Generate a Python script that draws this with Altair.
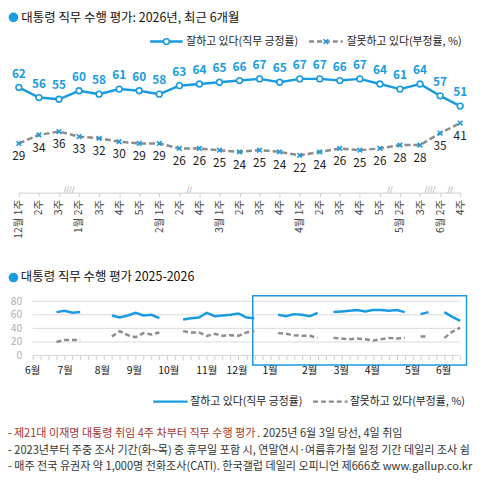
import json
import altair as alt
import pandas as pd

FONT = "Noto Sans CJK KR"
BLUE = "#1a9be0"
GRAY = "#8c8c8c"
RED = "#a8322d"

title_top = "대통령 직무 수행 평가: 2026년, 최근 6개월"
title_bottom = "대통령 직무 수행 평가 2025-2026"
legend_pos = "잘하고 있다(직무 긍정률)"
legend_neg = "잘못하고 있다(부정률, %)"

# ---- recent 6 months (top) ----
week_labels = ["12월 1주", "2주", "3주", "1월 2주", "3주", "4주", "5주", "2월 1주", "2주", "4주",
               "3월 1주", "2주", "3주", "4주", "4월 1주", "2주", "3주", "4주", "5주",
               "5월 2주", "3주", "6월 2주", "4주"]
recent_pos = [62, 56, 55, 60, 58, 61, 60, 58, 63, 64, 65, 66, 67, 65, 67, 67, 66, 67, 64, 61, 64, 57, 51]
recent_neg = [29, 34, 36, 33, 32, 30, 29, 29, 26, 26, 25, 24, 25, 24, 22, 24, 26, 25, 26, 28, 28, 35, 41]
break_at = [2.5, 8.5, 18.5, 20.5, 21.5]
break_text = ["////", "//", "//", "////", "//"]

# ---- 2025-2026 (bottom) ----
year_weeks = [3, 4, 5, 6, 10, 11, 12, 13, 14, 15, 16, 19, 20, 21, 22, 23, 24, 25, 26, 27, 28,
              31, 32, 33, 34, 35, 36, 38, 39, 40, 41, 42, 43, 44, 45, 46, 47, 49, 50, 52, 53, 54]
year_pos = [64, 66, 63, 64, 59, 56, 59, 63, 59, 60, 55, 53, 55, 56, 63, 58, 59, 60, 62, 56, 55,
            60, 58, 61, 60, 58, 63, 64, 65, 66, 67, 65, 67, 67, 66, 67, 64, 61, 64, 64, 57, 51]
year_neg = [20, 23, 23, 23, 28, 36, 30, 27, 33, 31, 34, 36, 34, 34, 29, 32, 29, 30, 29, 34, 36,
            33, 32, 30, 29, 29, 26, 26, 25, 24, 25, 24, 22, 24, 26, 25, 26, 28, 28, 26, 35, 41]
month_labels = ["6월", "7월", "8월", "9월", "10월", "11월", "12월", "1월", "2월", "3월", "4월", "5월", "6월"]
month_at = [0, 4.1, 8.8, 12.85, 17.2, 22.0, 25.8, 30.0, 35.0, 39.0, 42.9, 48.0, 51.9]
grid_values = [0, 20, 40, 60, 80]
first_week, last_week = 0, 54
highlight_x = [27.8]
highlight_x2 = [54.8]
highlight_y = [-14]
highlight_y2 = [88]

note1_dash = "-"
note1_red = "제21대 이재명 대통령 취임 4주 차부터 직무 수행 평가"
note1_tail = ". 2025년 6월 3일 당선, 4일 취임"
note2 = "- 2023년부터 주중 조사 기간(화~목) 중 휴무일 포함 시, 연말연시·여름휴가철 일정 기간 데일리 조사 쉼"
note3 = "- 매주 전국 유권자 약 1,000명 전화조사(CATI). 한국갤럽 데일리 오피니언 제666호 www.gallup.co.kr"


def text_layer(text, x, y, size, color="#222", align="left", weight="normal"):
    return alt.Chart(pd.DataFrame({"t": [text]})).mark_text(
        align=align, baseline="middle", font=FONT, fontSize=size, color=color, fontWeight=weight
    ).encode(x=alt.value(x), y=alt.value(y), text="t:N")


def rule_layer(x1, x2, y, color, width, dash=None):
    kw = dict(color=color, strokeWidth=width)
    if dash:
        kw["strokeDash"] = dash
    return alt.Chart(pd.DataFrame({"a": [0]})).mark_rule(**kw).encode(
        x=alt.value(x1), x2=alt.value(x2), y=alt.value(y))


XSHAPE = "M-1,-1L1,1M1,-1L-1,1"
W = 447
NOTE = 11.2
LEG = 11
TTL = 12.6

# ================= TOP =================
TH = 184
top_df = pd.DataFrame({"i": list(range(len(week_labels))), "pos": recent_pos, "neg": recent_neg})
label_arr = json.dumps(week_labels, ensure_ascii=False)
top_axis = alt.Axis(values=list(range(len(week_labels))), labelExpr=f"{label_arr}[datum.value]",
                    labelAngle=270, labelFontSize=10.5, labelColor="#444", labelFont=FONT,
                    labelOverlap=False, labelFlush=False, labelPadding=3, tickSize=4,
                    tickColor="#cccccc", domainColor="#cccccc", grid=False, title=None)
xs_top = alt.Scale(domain=[0, len(week_labels) - 1], nice=False, zero=False)
ys_top = alt.Scale(domain=[0, 107], nice=False)
ya_top = alt.Axis(labels=False, ticks=False, domain=False, grid=False, title=None)

tbase = alt.Chart(top_df)
t_x = alt.X("i:Q", scale=xs_top, axis=top_axis)
y_neg = alt.Y("neg:Q", scale=ys_top, axis=ya_top)
y_pos = alt.Y("pos:Q", scale=ys_top, axis=ya_top)
neg_line = tbase.mark_line(color=GRAY, strokeWidth=2.5, strokeDash=[6, 3]).encode(x=t_x, y=y_neg)
pos_line = tbase.mark_line(color=BLUE, strokeWidth=2.5).encode(x=t_x, y=y_pos)
neg_pts = tbase.mark_point(shape=XSHAPE, filled=False, stroke=BLUE, strokeWidth=1.6, size=22,
                           opacity=1).encode(x=t_x, y=y_neg)
pos_pts = tbase.mark_point(shape="circle", filled=True, fill="white", stroke=BLUE, strokeWidth=1.6,
                           size=34, opacity=1).encode(x=t_x, y=y_pos)
pos_lab = tbase.mark_text(dy=-14, fontSize=12, fontWeight="bold", color=BLUE, font=FONT).encode(
    x=t_x, y=y_pos, text="pos:Q")
neg_lab = tbase.mark_text(dy=13, fontSize=12, color="#222", font=FONT).encode(
    x=t_x, y=y_neg, text="neg:Q")
breaks = alt.Chart(pd.DataFrame({"i": break_at, "t": break_text})).mark_text(
    fontSize=8, color="#aaaaaa", baseline="bottom", dy=1, font="DejaVu Sans").encode(
    x=t_x, y=alt.value(TH), text="t:N")

top_dot = alt.Chart(pd.DataFrame({"a": [0]})).mark_circle(color=BLUE, size=95, opacity=1).encode(
    x=alt.value(-5.5), y=alt.value(6.5))
top_title = text_layer(title_top, 2.5, 7.5, TTL, "#111")
leg1_line = rule_layer(133, 166, 31, BLUE, 2.5)
leg1_pt = alt.Chart(pd.DataFrame({"a": [0]})).mark_point(
    shape="circle", filled=True, fill="white", stroke=BLUE, strokeWidth=1.6, size=34, opacity=1).encode(
    x=alt.value(149.5), y=alt.value(31))
leg1_txt = text_layer(legend_pos, 169.5, 31, LEG, "#222")
leg2_line = rule_layer(294, 328, 31, GRAY, 2.5, [5, 3])
leg2_pt = alt.Chart(pd.DataFrame({"a": [0]})).mark_point(
    shape=XSHAPE, filled=False, stroke=BLUE, strokeWidth=1.6, size=22, opacity=1).encode(
    x=alt.value(311), y=alt.value(31))
leg2_txt = text_layer(legend_neg, 332, 31, LEG, "#222")

top = alt.layer(neg_line, pos_line, neg_pts, pos_pts, pos_lab, neg_lab, breaks,
                top_dot, top_title, leg1_line, leg1_pt, leg1_txt, leg2_line, leg2_pt, leg2_txt
                ).properties(width=W, height=TH)

# ================= BOTTOM =================
BH = 55
seg, s = [], 0
for k, w in enumerate(year_weeks):
    if k > 0 and w - year_weeks[k - 1] > 1:
        s += 1
    seg.append(s)
bdf = pd.DataFrame({"week": year_weeks, "pos": year_pos, "neg": year_neg, "seg": seg})
xs_b = alt.Scale(domain=[-1.75, 54], nice=False, zero=False)
ys_b = alt.Scale(domain=[0, 80], nice=False)
b_xaxis = alt.Axis(values=list(range(first_week, last_week + 1)), labels=False, ticks=True, tickSize=4,
                   tickColor="#cccccc", domain=False, grid=False, title=None)
b_yaxis = alt.Axis(values=grid_values, grid=False, ticks=False, domain=False, offset=-14,
                   labelColor="#b0b0b0", labelFontSize=10.5, labelPadding=11, labelFont=FONT, title=None)
bbase = alt.Chart(bdf)
b_x = alt.X("week:Q", scale=xs_b, axis=b_xaxis)
grid = alt.Chart(pd.DataFrame({"week": first_week, "b": last_week, "pos": grid_values})).mark_rule(
    color="#d9d9d9", strokeWidth=1).encode(
    x=b_x, x2="b:Q", y=alt.Y("pos:Q", scale=ys_b, axis=b_yaxis))
b_pos = bbase.mark_line(color=BLUE, strokeWidth=2.5).encode(
    x=b_x, y=alt.Y("pos:Q", scale=ys_b, axis=b_yaxis), detail="seg:N")
b_neg = bbase.mark_line(color=GRAY, strokeWidth=2.5, strokeDash=[5, 3]).encode(
    x=b_x, y=alt.Y("neg:Q", scale=ys_b, axis=b_yaxis), detail="seg:N")
hl = alt.Chart(pd.DataFrame({"week": highlight_x, "x2": highlight_x2, "pos": highlight_y, "y2": highlight_y2})
               ).mark_rect(fillOpacity=0, stroke=BLUE, strokeWidth=1.5).encode(
    x=b_x, x2="x2:Q",
    y=alt.Y("pos:Q", scale=ys_b, axis=b_yaxis), y2="y2:Q")
months = alt.Chart(pd.DataFrame({"week": month_at, "t": month_labels})).mark_text(
    fontSize=10.5, color="#111", baseline="middle", font=FONT).encode(
    x=b_x, y=alt.value(71), text="t:N")

bot_dot = alt.Chart(pd.DataFrame({"a": [0]})).mark_circle(color=BLUE, size=95, opacity=1).encode(
    x=alt.value(-5.5), y=alt.value(-24))
bot_title = text_layer(title_bottom, 2, -24, TTL, "#111")
bl1 = rule_layer(136, 171, 101.7, BLUE, 2.5)
bl1t = text_layer(legend_pos, 173.7, 101.7, LEG, "#222")
bl2 = rule_layer(298, 333, 101.7, GRAY, 2.5, [5, 3])
bl2t = text_layer(legend_neg, 335.3, 101.7, LEG, "#222")
n1a = text_layer(note1_dash, -11, 134.3, NOTE, "#333")
n1b = text_layer(note1_red, -5, 134.3, NOTE, RED)
n1c = text_layer(note1_tail, 241.5, 134.3, NOTE, "#333")
n2 = text_layer(note2, -11, 151.7, NOTE, "#333")
n3 = text_layer(note3, -11, 168.3, NOTE, "#333")

bottom = alt.layer(grid, hl, b_neg, b_pos, months, bot_dot, bot_title, bl1, bl1t, bl2, bl2t,
                   n1a, n1b, n1c, n2, n3).properties(width=W, height=BH)

chart = alt.vconcat(top, bottom, spacing=33).properties(
    padding=0, background="white"
).configure(font=FONT).configure_view(strokeWidth=0)

chart.save("out.html", embed_options={"renderer": "svg", "actions": False})
